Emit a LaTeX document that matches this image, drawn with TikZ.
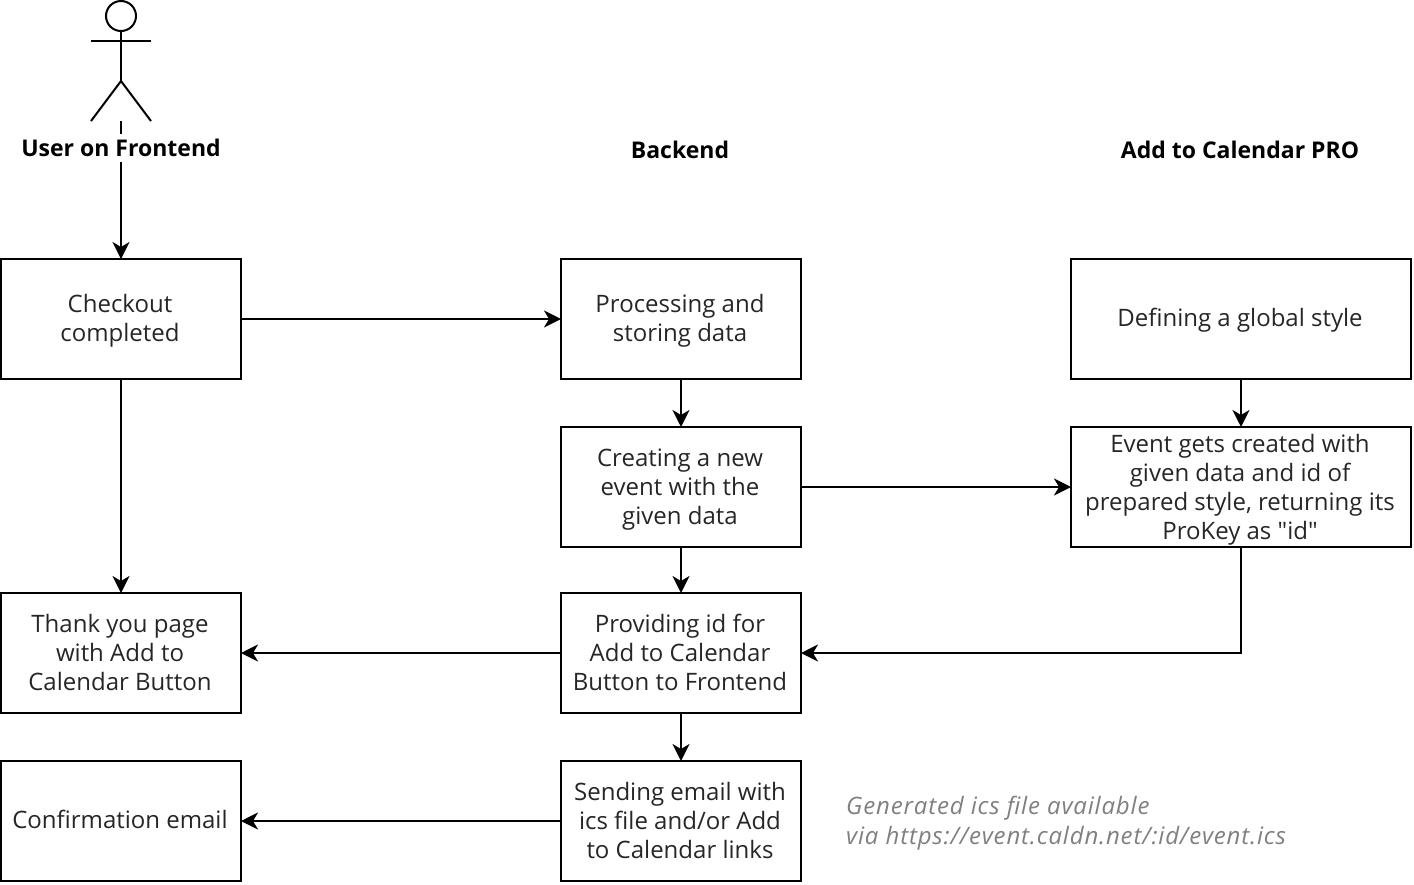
\documentclass[tikz,border=0pt]{standalone}
\usepackage{fontspec}
\newfontfamily\plainsans{Open Sans}
\usetikzlibrary{arrows.meta}
\newcommand{\shifted}[2]{\kern-2pt\raisebox{#1}[0pt][0pt]{\begin{tabular}{@{}c@{}}#2\end{tabular}}}
\tikzset{
  x=1pt,y=-1pt,
  flowbox/.style={draw=black,line width=2pt,rectangle,inner sep=0pt,outer sep=0pt,minimum width=240pt,minimum height=120pt,align=center,text=black!85,font=\plainsans\fontsize{24}{29}\selectfont},
  widebox/.style={flowbox,minimum width=340pt},
  flow/.style={draw=black,line width=2pt,-{Stealth[length=17pt,width=17pt,inset=5pt]}},
  stick/.style={draw=black,line width=2pt},
  heading/.style={font=\plainsans\fontsize{23}{29}\selectfont\bfseries,text=black,inner xsep=1pt,inner ysep=0pt,outer sep=0pt},
  note/.style={font=\plainsans\fontsize{24}{30}\selectfont\itshape\addfontfeature{LetterSpace=3.5},text=black!50,align=left,inner sep=0pt}
}
\begin{document}
\begin{tikzpicture}
\useasboundingbox (0,0) rectangle (1414,884);
% boxes
\node[flowbox] (checkout) at (121,319) {\shifted{-8pt}{Checkout\\completed}};
\node[flowbox] (processing) at (681,319) {\shifted{-8.5pt}{Processing and\\storing data}};
\node[widebox] (style) at (1241,319) {\shifted{-7.5pt}{Defining a global style}};
\node[flowbox] (creating) at (681,487) {\shifted{-8.5pt}{Creating a new\\event with the\\given data}};
\node[widebox] (event) at (1241,487) {\shifted{-9.5pt}{Event gets created with\\given data and id of\\prepared style, returning its\\ProKey as "id"}};
\node[flowbox] (thanks) at (121,653) {\shifted{-8.5pt}{Thank you page\\with Add to\\Calendar Button}};
\node[flowbox] (providing) at (681,653) {\shifted{-8.5pt}{Providing id for\\Add to Calendar\\Button to Frontend}};
\node[flowbox] (confirm) at (121,821) {\shifted{-7.5pt}{Confirmation email}};
\node[flowbox] (sending) at (681,821) {\shifted{-8.5pt}{Sending email with\\ics file and/or Add\\to Calendar links}};
% actor
\node[stick,circle,minimum size=30pt,inner sep=0pt,outer sep=0pt] (head) at (121,16) {};
\coordinate (shoulderL) at (91,41);
\coordinate (shoulderR) at (151,41);
\coordinate (hip) at (121,81);
\coordinate (footL) at (91,121);
\coordinate (footR) at (151,121);
\coordinate (actorbase) at (121,121);
\draw[stick] (head.south) -- (hip);
\draw[stick] (shoulderL) -- (shoulderR);
\draw[stick] (footL) -- (hip) -- (footR);
% connectors
\draw[flow] (actorbase) -- (checkout.north);
\node[heading,fill=white,minimum height=28pt] (actorlabel) at (121,147.5) {User on Frontend};
\draw[flow] (checkout.east) -- (processing.west);
\draw[flow] (checkout.south) -- (thanks.north);
\draw[flow] (processing.south) -- (creating.north);
\draw[flow] (creating.south) -- (providing.north);
\draw[flow] (providing.south) -- (sending.north);
\draw[flow] (creating.east) -- (event.west);
\draw[flow] (style.south) -- (event.north);
\draw[flow] (event.south) |- (providing.east);
\draw[flow] (providing.west) -- (thanks.east);
\draw[flow] (sending.west) -- (confirm.east);
% headings and note
\node[heading] (backend) at (680,150) {Backend};
\node[heading] (pro) at (1240,150) {Add to Calendar PRO};
\node[note,anchor=west] (hint) at (846,823) {Generated ics file available\\via https://event.caldn.net/:id/event.ics};
\end{tikzpicture}
\end{document}
